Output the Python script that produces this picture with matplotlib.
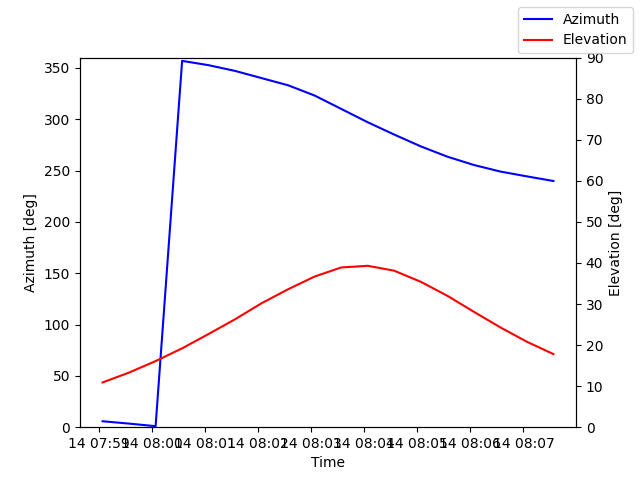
import numpy as np
import pandas as pd
import matplotlib
matplotlib.use("Agg")
import matplotlib.pyplot as plt
import matplotlib.dates as mdates

# Pass samples, 30 s apart
times = pd.date_range("2023-03-14 07:59:04", periods=18, freq="30s")
azimuth = [5.8, 3.5, 1.0, 356.8, 352.6, 347.0, 340.0, 333.0, 323.0, 310.0,
           297.0, 285.0, 273.5, 263.5, 255.4, 249.0, 244.3, 239.8]
elevation = [10.9, 13.3, 16.1, 19.2, 22.7, 26.3, 30.2, 33.6, 36.7, 38.9,
             39.3, 38.1, 35.4, 32.0, 28.1, 24.3, 20.8, 17.8]

fig, ax1 = plt.subplots(figsize=(6.4, 4.8), dpi=100)
ax1.plot(times, azimuth, color="b", label="Azimuth")
ax1.set_xlabel("Time")
ax1.set_ylabel("Azimuth [deg]")
ax1.set_ylim(0, 360)

ax2 = ax1.twinx()
ax2.plot(times, elevation, color="r", label="Elevation")
ax2.set_ylabel("Elevation [deg]")
ax2.set_ylim(0, 90)

ax1.xaxis.set_major_locator(mdates.MinuteLocator())
ax1.xaxis.set_major_formatter(mdates.DateFormatter("%d %H:%M"))

fig.legend(loc="upper right")

plt.savefig("out.png")
